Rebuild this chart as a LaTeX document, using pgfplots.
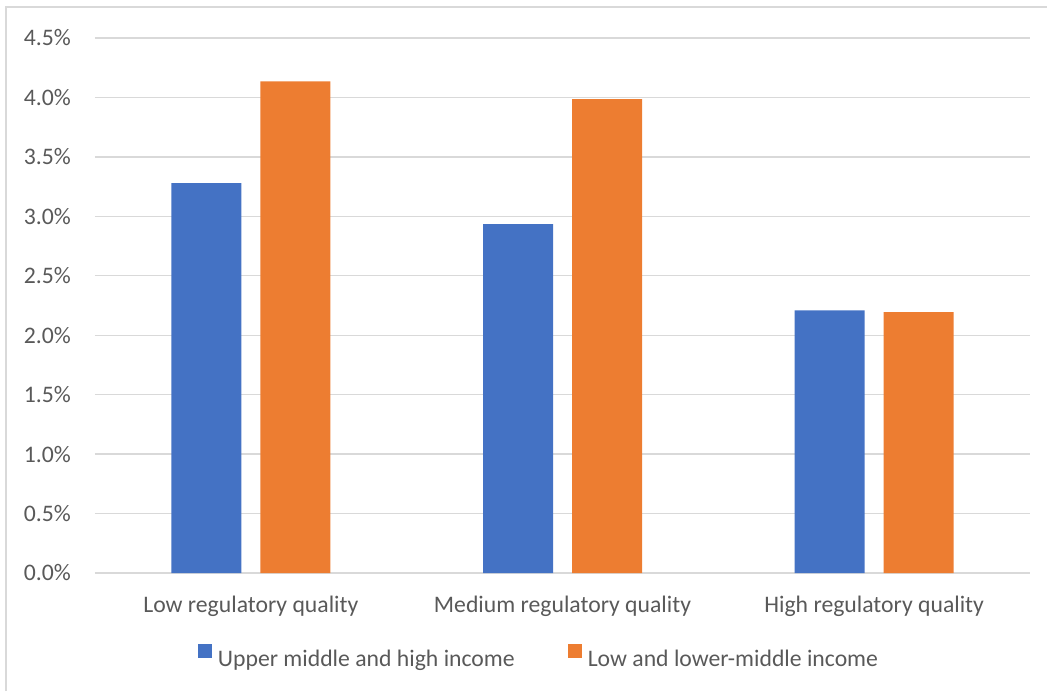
\documentclass[border=0pt]{standalone}
\usepackage{fontspec}
\setmainfont{Carlito}
\usepackage{pgfplots}
\pgfplotsset{compat=1.18}
\definecolor{barblue}{HTML}{4472C4}
\definecolor{barorange}{HTML}{ED7D31}
\definecolor{gridgray}{HTML}{D9D9D9}
\definecolor{textgray}{HTML}{595959}

\begin{document}
\begin{tikzpicture}
\begin{axis}[
  at={(0pt,0pt)}, anchor=south west,
  scale only axis, width=935pt, height=535pt,
  ymin=0, ymax=4.5, ytick={0,0.5,...,4.5},
  xmin=-0.5, xmax=2.5, xtick={0,1,2},
  xticklabels={Low regulatory quality, Medium regulatory quality, High regulatory quality},
  axis line style={draw=none},
  major tick length=0pt,
  ymajorgrids, grid style={gridgray, line width=1.3pt},
  /pgf/number format/assume math mode=true,
  yticklabel={\pgfmathprintnumber[fixed,fixed zerofill,precision=1]{\tick}\%},
  tick label style={font=\fontsize{23.7}{28}\selectfont, text=textgray},
  yticklabel style={anchor=east, inner sep=0pt, xshift=-24pt},
  xticklabel style={anchor=base, inner sep=0pt, yshift=-39pt},
  ybar, bar width=70pt,
  legend columns=2,
  legend image code/.code={\fill[#1,draw=none] (0pt,0.5pt) rectangle (14pt,14.5pt);},
  legend style={at={(0.4738,-0.155)}, anchor=center, draw=none, fill=none,
    font=\fontsize{23.7}{28}\selectfont, text=textgray,
    nodes={inner sep=0pt},
    /tikz/every odd column/.append style={column sep=6pt},
    /tikz/every even column/.append style={column sep=53pt}},
]
\addplot[fill=barblue, draw=none, bar shift=-44.5pt]
  coordinates {(0,3.28) (1,2.935) (2,2.21)};
\addplot[fill=barorange, draw=none, bar shift=44.5pt]
  coordinates {(0,4.135) (1,3.985) (2,2.195)};
\legend{Upper middle and high income, Low and lower-middle income}
\end{axis}
% chart frame (left and top edges)
\draw[gridgray, line width=1.5pt] (-89pt,-118pt) -- (-89pt,566pt) -- (952pt,566pt);
\pgfresetboundingbox
\useasboundingbox (-95pt,-118pt) rectangle (952pt,573pt);
\end{tikzpicture}
\end{document}
